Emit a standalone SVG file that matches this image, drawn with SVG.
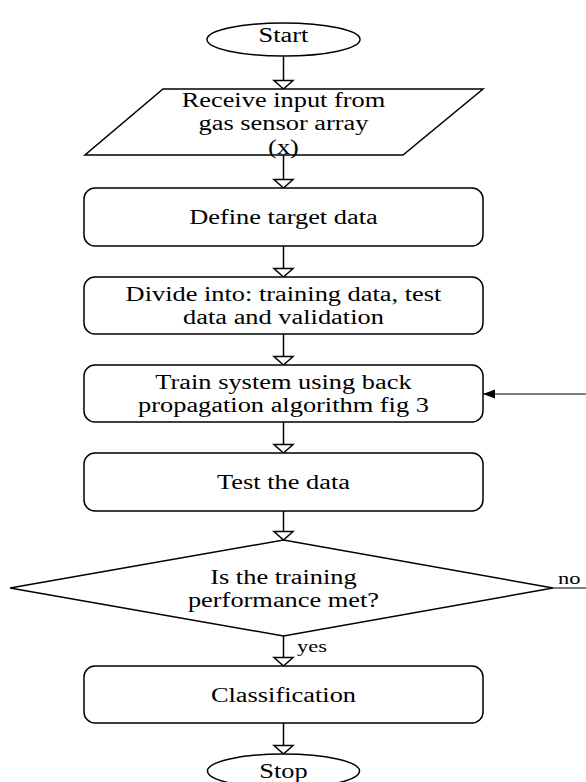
<svg xmlns="http://www.w3.org/2000/svg" width="586" height="782" viewBox="0 0 586 782">
<style>
  .s { fill: #fff; stroke: #000; stroke-width: 1.5; }
  .c { fill: none; stroke: #000; stroke-width: 1.5; }
  .t { font-family: "Liberation Serif", "Times New Roman", serif; font-size: 20px; fill: #000; text-anchor: middle; }
  .l { font-family: "Liberation Serif", "Times New Roman", serif; font-size: 17px; fill: #000; }
</style>
<defs>
  <marker id="hollow" markerUnits="userSpaceOnUse" markerWidth="12" markerHeight="22" refX="9" refY="10" orient="auto" overflow="visible">
    <path d="M0.5,0.5 L9,10 L0.5,19.5 Z" fill="#fff" stroke="#000" stroke-width="1.5" stroke-linejoin="miter"/>
  </marker>
  <marker id="solid" markerUnits="userSpaceOnUse" markerWidth="14" markerHeight="10" refX="12" refY="5" orient="auto" overflow="visible">
    <path d="M0,0.5 L12,5 L0,9.5 Z" fill="#000"/>
  </marker>
</defs>
<rect width="586" height="782" fill="#fff"/>
<g id="connectors">
  <line class="c" x1="283.5" y1="56" x2="283.5" y2="89" marker-end="url(#hollow)"/>
  <line class="c" x1="283.5" y1="155" x2="283.5" y2="188" marker-end="url(#hollow)"/>
  <line class="c" x1="283.5" y1="246" x2="283.5" y2="277" marker-end="url(#hollow)"/>
  <line class="c" x1="283.5" y1="334" x2="283.5" y2="365" marker-end="url(#hollow)"/>
  <line class="c" x1="283.5" y1="422" x2="283.5" y2="453" marker-end="url(#hollow)"/>
  <line class="c" x1="283.5" y1="511" x2="283.5" y2="540" marker-end="url(#hollow)"/>
  <line class="c" x1="283.5" y1="636" x2="283.5" y2="666" marker-end="url(#hollow)"/>
  <line class="c" x1="283.5" y1="723" x2="283.5" y2="754" marker-end="url(#hollow)"/>
  <line x1="553" y1="588" x2="586" y2="588" stroke="#000" stroke-width="1"/>
  <line x1="586" y1="394" x2="483" y2="394" stroke="#000" stroke-width="1" marker-end="url(#solid)"/>
  <text class="l" transform="translate(297 652) scale(1.32 1)">yes</text>
  <text class="l" transform="translate(558 584) scale(1.32 1)">no</text>
</g>
<g id="start">
  <ellipse class="s" cx="283.5" cy="39.5" rx="76.5" ry="16.5"/>
  <text class="t" x="283.5" y="42" transform="matrix(1.32 0 0 1 -90.72 0)">Start</text>
</g>
<g id="input">
  <polygon class="s" points="163,89 483,89 403,155 85,155"/>
  <text class="t" x="283.5" y="107" transform="matrix(1.32 0 0 1 -90.72 0)">Receive input from</text>
  <text class="t" x="283.5" y="130.5" transform="matrix(1.32 0 0 1 -90.72 0)">gas sensor array</text>
  <text class="t" x="283.5" y="154" transform="matrix(1.32 0 0 1 -90.72 0)">(x)</text>
</g>
<g id="define">
  <rect class="s" x="84" y="188" width="399" height="58" rx="11"/>
  <text class="t" x="283.5" y="224" transform="matrix(1.32 0 0 1 -90.72 0)">Define target data</text>
</g>
<g id="divide">
  <rect class="s" x="84" y="277" width="399" height="57" rx="11"/>
  <text class="t" x="283.5" y="301" transform="matrix(1.32 0 0 1 -90.72 0)">Divide into: training data, test</text>
  <text class="t" x="283.5" y="324" transform="matrix(1.32 0 0 1 -90.72 0)">data and validation</text>
</g>
<g id="train">
  <rect class="s" x="84" y="365" width="399" height="57" rx="11"/>
  <text class="t" x="283.5" y="389" transform="matrix(1.32 0 0 1 -90.72 0)">Train system using back</text>
  <text class="t" x="283.5" y="412" transform="matrix(1.32 0 0 1 -90.72 0)">propagation algorithm fig 3</text>
</g>
<g id="test">
  <rect class="s" x="84" y="453" width="399" height="58" rx="11"/>
  <text class="t" x="283.5" y="489" transform="matrix(1.32 0 0 1 -90.72 0)">Test the data</text>
</g>
<g id="decision">
  <polygon class="s" points="10,588 283.5,540 553,588 283.5,636"/>
  <text class="t" x="283.5" y="584" transform="matrix(1.32 0 0 1 -90.72 0)">Is the training</text>
  <text class="t" x="283.5" y="607" transform="matrix(1.32 0 0 1 -90.72 0)">performance met?</text>
</g>
<g id="classification">
  <rect class="s" x="84" y="666" width="399" height="57" rx="11"/>
  <text class="t" x="283.5" y="702" transform="matrix(1.32 0 0 1 -90.72 0)">Classification</text>
</g>
<g id="stop">
  <ellipse class="s" cx="283.5" cy="771" rx="76" ry="17"/>
  <text class="t" x="283.5" y="778" transform="matrix(1.32 0 0 1 -90.72 0)">Stop</text>
</g>
</svg>
